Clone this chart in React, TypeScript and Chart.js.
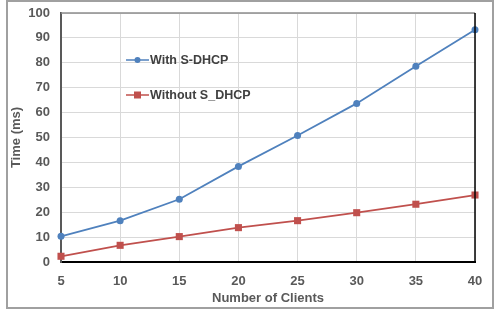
import React, { useEffect, useRef } from "react";
import { Chart, registerables } from "chart.js";

Chart.register(...registerables);

const categories = ["5", "10", "15", "20", "25", "30", "35", "40"];
const withSDHCP = [10.3, 16.6, 25.2, 38.4, 50.8, 63.7, 78.6, 93.3];
const withoutSDHCP = [2.3, 6.7, 10.2, 13.8, 16.6, 19.8, 23.2, 26.9];
const seriesNames = ["With S-DHCP", "Without S_DHCP"];
const xTitle = "Number of Clients";
const yTitle = "Time (ms)";

const BLUE = "#4f81bd";
const RED = "#c0504d";
const FONT = "'Liberation Sans', Arial, sans-serif";

const framePlugin = {
  id: "frame",
  beforeDraw(chart: any) {
    const { ctx } = chart;
    ctx.save();
    ctx.fillStyle = "#ffffff";
    ctx.fillRect(0, 0, chart.width, chart.height);
    ctx.strokeStyle = "#a0a0a0";
    ctx.lineWidth = 2;
    ctx.strokeRect(7, 1, 486, 307);
    ctx.restore();
  },
  afterDatasetsDraw(chart: any) {
    const { ctx, chartArea: a } = chart;
    ctx.save();
    ctx.strokeStyle = "#8c8c8c";
    ctx.lineWidth = 1.5;
    ctx.beginPath();
    ctx.moveTo(a.left, a.top);
    ctx.lineTo(a.right, a.top);
    ctx.stroke();
    ctx.strokeStyle = "#000000";
    ctx.beginPath();
    ctx.moveTo(a.right, a.top);
    ctx.lineTo(a.right, a.bottom);
    ctx.stroke();
    // legend
    const items = [
      { name: seriesNames[0], color: BLUE, style: "circle", y: 60 },
      { name: seriesNames[1], color: RED, style: "rect", y: 95 },
    ];
    items.forEach((it) => {
      ctx.strokeStyle = it.color;
      ctx.fillStyle = it.color;
      ctx.lineWidth = 1.5;
      ctx.beginPath();
      ctx.moveTo(126, it.y);
      ctx.lineTo(149, it.y);
      ctx.stroke();
      if (it.style === "circle") {
        ctx.beginPath();
        ctx.arc(137.5, it.y, 3, 0, Math.PI * 2);
        ctx.fill();
      } else {
        ctx.fillRect(134, it.y - 3.5, 7, 7);
      }
      ctx.fillStyle = "#404040";
      ctx.font = `bold 12.5px ${FONT}`;
      ctx.textAlign = "left";
      ctx.textBaseline = "middle";
      ctx.fillText(it.name, 150, it.y + 0.5);
    });
    ctx.restore();
  },
};

export default function App() {
  const ref = useRef<HTMLCanvasElement>(null);
  useEffect(() => {
    document.body.style.margin = "0";
    const chart = new Chart(ref.current as HTMLCanvasElement, {
      type: "line",
      data: {
        labels: categories,
        datasets: [
          {
            label: seriesNames[0],
            data: withSDHCP,
            borderColor: BLUE,
            backgroundColor: BLUE,
            borderWidth: 1.75,
            pointStyle: "circle",
            pointRadius: 3.5,
            pointBorderWidth: 0,
            tension: 0,
          },
          {
            label: seriesNames[1],
            data: withoutSDHCP,
            borderColor: RED,
            backgroundColor: RED,
            borderWidth: 1.75,
            pointStyle: "rect",
            pointRadius: 5,
            pointBorderWidth: 0,
            tension: 0,
          },
        ],
      },
      options: {
        animation: false,
        responsive: false,
        maintainAspectRatio: false,
        layout: { padding: { left: 0, right: 26, top: 13, bottom: 0 } },
        plugins: { legend: { display: false }, tooltip: { enabled: false } },
        scales: {
          x: {
            type: "category",
            offset: false,
            grid: { color: "#d9d9d9", drawTicks: false, lineWidth: 1 },
            border: { color: "#000000", width: 2 },
            ticks: {
              color: "#595959",
              font: { family: FONT, size: 13, weight: "bold" },
              padding: 12,
              maxRotation: 0,
            },
            title: {
              display: true,
              text: xTitle,
              color: "#595959",
              font: { family: FONT, size: 13, weight: "bold" },
              padding: { top: 0, bottom: 4 },
            },
            afterFit: (s: any) => {
              s.height = 48;
              s.paddingLeft = 0;
              s.paddingRight = 0;
            },
          },
          y: {
            min: 0,
            max: 100,
            grid: { color: "#d9d9d9", drawTicks: false, lineWidth: 1 },
            border: { color: "#595959", width: 2 },
            ticks: {
              stepSize: 10,
              color: "#595959",
              font: { family: FONT, size: 13, weight: "bold" },
              padding: 11,
            },
            title: {
              display: true,
              text: yTitle,
              color: "#595959",
              font: { family: FONT, size: 13, weight: "bold" },
              padding: { top: 9, bottom: 0 },
            },
            afterFit: (s: any) => {
              s.width = 61;
              s.paddingTop = 0;
              s.paddingBottom = 0;
            },
          },
        },
      },
      plugins: [framePlugin],
    });
    return () => chart.destroy();
  }, []);
  return (
    <div style={{ position: "absolute", left: 0, top: 0, width: 501, height: 310 }}>
      <canvas ref={ref} width={501} height={310} />
    </div>
  );
}
